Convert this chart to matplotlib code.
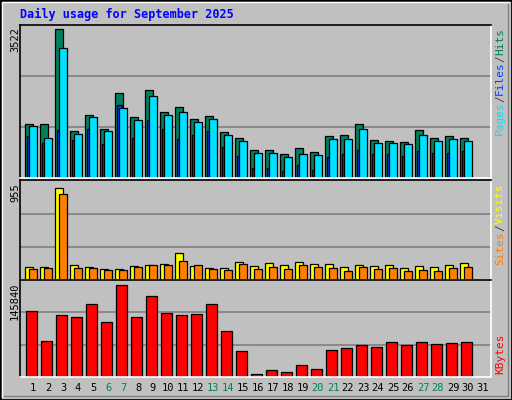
import matplotlib.pyplot as plt
from matplotlib.patches import Rectangle
import numpy as np

days = list(range(1, 32))
hits = [1275, 1275, 3522, 1108, 1490, 1155, 2016, 1442, 2088, 1562, 1681, 1394, 1466, 1084, 940,
        653, 653, 558, 701, 606, 988, 1012, 1275, 892, 868, 845, 1131, 940, 988, 940]
files = [1227, 940, 3068, 1036, 1442, 1108, 1657, 1370, 1944, 1490, 1562, 1323, 1394, 1012, 868,
         582, 582, 486, 558, 534, 916, 916, 1155, 821, 821, 797, 1012, 868, 916, 868]
pages = [988, 821, 1131, 892, 1155, 797, 1729, 940, 1370, 1155, 916, 1012, 1108, 725, 510,
         247, 247, 175, 319, 199, 486, 558, 653, 558, 558, 510, 629, 582, 582, 629]
visits = [135, 135, 955, 156, 135, 114, 114, 145, 156, 166, 280, 145, 125, 125, 187,
          145, 176, 156, 187, 166, 166, 135, 156, 145, 156, 125, 145, 135, 156, 176]
sites = [114, 125, 893, 125, 125, 104, 104, 135, 156, 156, 197, 156, 114, 104, 166,
         114, 135, 114, 156, 135, 125, 93, 135, 114, 125, 93, 104, 93, 125, 135]
kbytes = [104272, 56392, 97888, 94696, 115444, 86716, 145840, 94696, 128212, 101080, 97888, 99484,
          115444, 72352, 40432, 3724, 10108, 6916, 18088, 11704, 42028, 45220, 50008, 46816,
          54796, 50008, 54796, 51604, 53200, 54796]
weekends = [6, 7, 13, 14, 20, 21, 27, 28]

W, H = 512, 400
BG = '#c0c0c0'
fig = plt.figure(figsize=(W / 100, H / 100), dpi=100, facecolor=BG)

# outer bevel frame
fig.add_artist(Rectangle((0, 0), 1, 1, transform=fig.transFigure, fill=False, ec='black', lw=2))
fig.add_artist(plt.Line2D([2 / W, 2 / W, 1 - 3 / W], [3 / H, 1 - 2 / H, 1 - 2 / H],
                          transform=fig.transFigure, color='white', lw=1))
fig.add_artist(plt.Line2D([4 / W, 1 - 4 / W, 1 - 4 / W], [4 / H, 4 / H, 1 - 4 / H],
                          transform=fig.transFigure, color='#808080', lw=1))

def ax_px(x0, y0, x1, y1):
    return fig.add_axes([x0 / W, 1 - y1 / H, (x1 - x0) / W, (y1 - y0) / H])

X0 = 1 - 13 / 15
XMAX = X0 + 470.7 / 15

def style(ax, top):
    ax.set_facecolor(BG)
    ax.set_xlim(X0, XMAX)
    ax.set_ylim(0, top)
    ax.set_xticks([])
    ax.set_yticks([])
    for f in (1 / 3, 2 / 3):
        ax.axhline(top * f, color='#808080', lw=1.2, zorder=0)
    ax.spines['top'].set_color('black')
    ax.spines['left'].set_color('black')
    ax.spines['bottom'].set_color('white')
    ax.spines['right'].set_color('white')
    for s in ax.spines.values():
        s.set_linewidth(1.2)

def bars(ax, vals, left, width, color):
    x = np.arange(1, len(vals) + 1) + left / 15
    ax.bar(x, vals, width=width / 15, align='edge', color=color, edgecolor='black', lw=0.9)

mono = 'DejaVu Sans Mono'

ax1 = ax_px(20, 25.3, 490.7, 178)
style(ax1, 3522 * 151.4 / 147.4)
bars(ax1, hits, -7.7, 7.4, '#00805c')
bars(ax1, pages, -5.7, 5.0, '#0040ff')
bars(ax1, files, -3.7, 7.4, '#00e0ff')

ax2 = ax_px(20, 180.3, 490.7, 280.3)
style(ax2, 955 * 100 / 92)
bars(ax2, visits, -7.7, 8.0, '#ffff00')
bars(ax2, sites, -3.7, 7.4, '#ff8000')

ax3 = ax_px(20, 280.3, 490.7, 376.7)
style(ax3, 145840 * 96.4 / 91.3)
bars(ax3, kbytes, -6.7, 10.4, '#ff0000')

# day labels
for d in days:
    x = (20 + (d - X0) * 15) / W
    fig.text(x, 1 - 388 / H, str(d), ha='center', va='center', fontsize=7.5, family=mono,
             color='#00805c' if d in weekends else 'black')

fig.text(20 / W, 1 - 14 / H, 'Daily usage for September 2025', fontsize=8.5, family=mono,
         weight='bold', color='#0000ff', va='center')

for y, s in ((27, '3522'), (183, '955'), (283, '145840')):
    fig.text(15 / W, 1 - y / H, s, rotation=90, ha='center', va='top', fontsize=7.5, family=mono)

FS = 8
CW = 0.602 * FS * 100 / 72  # monospace advance, px

def side(ytop, parts):
    # parts listed from top to bottom (rotated text reads bottom-to-top)
    y = ytop
    for s, c in parts:
        fig.text(500 / W, 1 - y / H, s, rotation=90, ha='center', va='top',
                 fontsize=FS, family=mono, color=c)
        y += len(s) * CW

side(28, [('Hits', '#00805c'), ('/', '#404040'), ('Files', '#0040ff'), ('/', '#404040'),
          ('Pages', '#00e0ff')])
side(184, [('Visits', '#ffff00'), ('/', '#404040'), ('Sites', '#ff8000')])
side(333, [('KBytes', '#ff0000')])

fig.savefig('out.png', dpi=100, facecolor=BG)
